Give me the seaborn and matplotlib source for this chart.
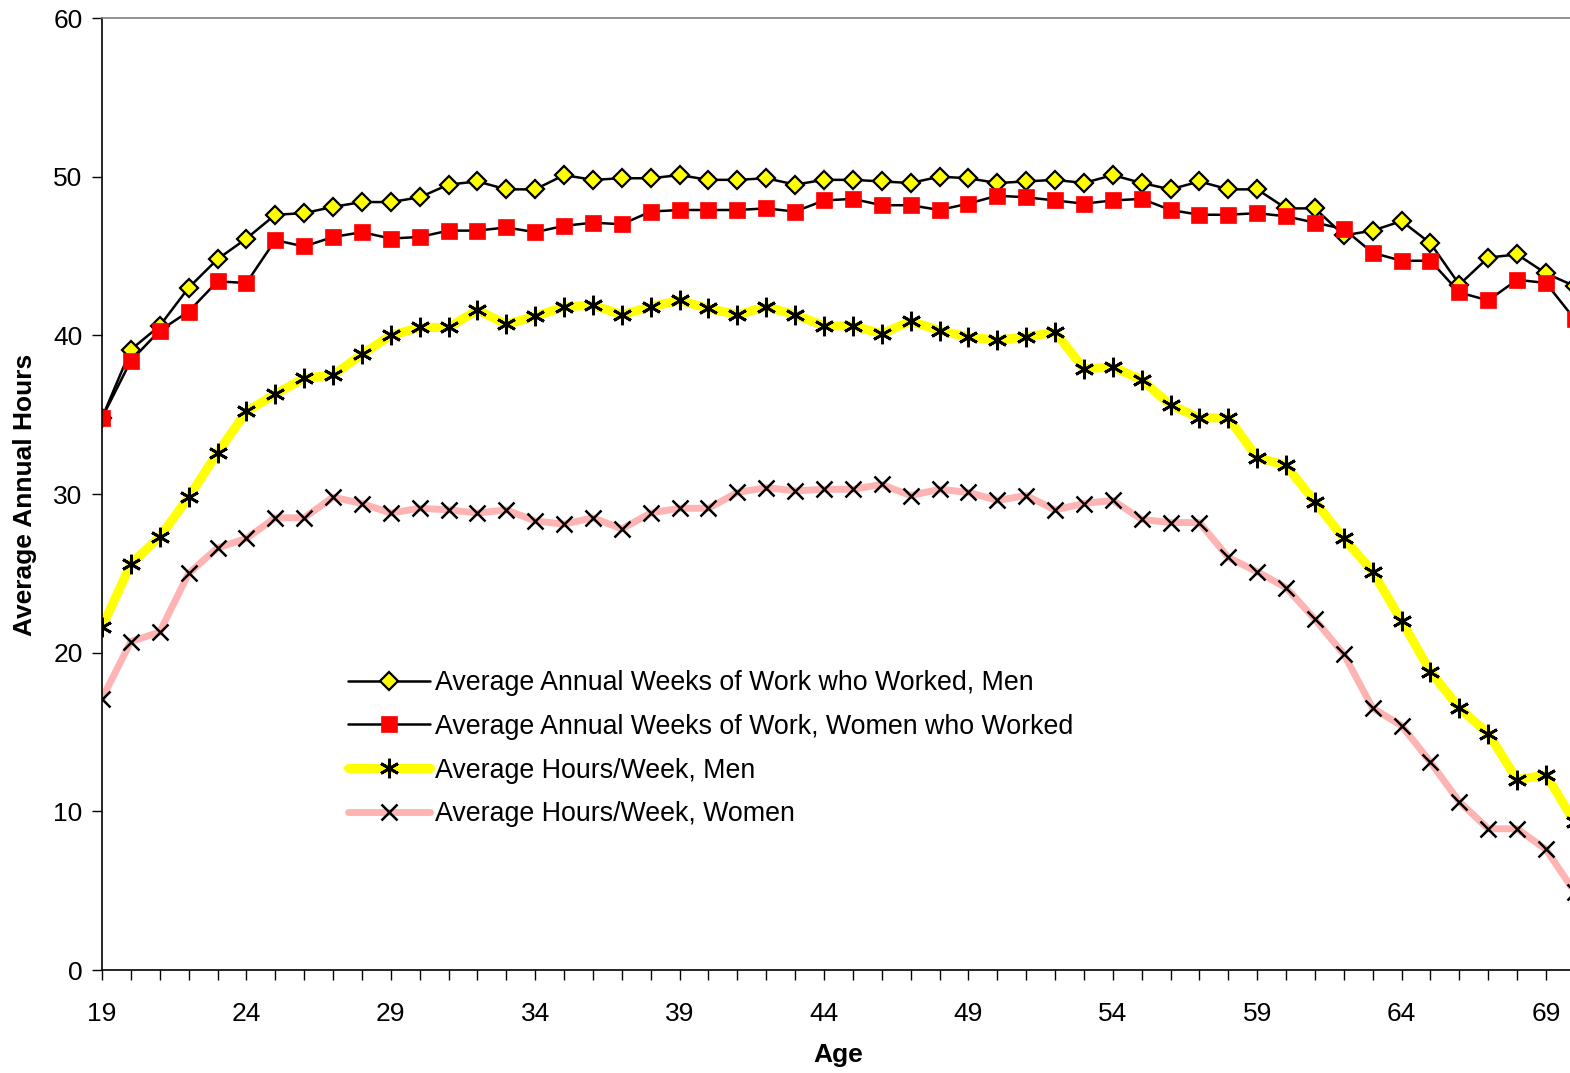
import numpy as np
import pandas as pd
import matplotlib
matplotlib.use('Agg')
import matplotlib.pyplot as plt
import seaborn as sns

# === Data ===
ages = list(range(19, 71))

men_weeks = [34.8, 39.1, 40.6, 43.0, 44.8, 46.1, 47.6, 47.7, 48.1, 48.4,
             48.4, 48.7, 49.5, 49.7, 49.2, 49.2, 50.1, 49.8, 49.9, 49.9,
             50.1, 49.8, 49.8, 49.9, 49.5, 49.8, 49.8, 49.7, 49.6, 50.0,
             49.9, 49.6, 49.7, 49.8, 49.6, 50.1, 49.6, 49.2, 49.7, 49.2,
             49.2, 48.0, 48.0, 46.3, 46.6, 47.2, 45.8, 43.2, 44.9, 45.1,
             43.9, 43.1]

women_weeks = [34.8, 38.4, 40.3, 41.5, 43.4, 43.3, 46.0, 45.6, 46.2, 46.5,
               46.1, 46.2, 46.6, 46.6, 46.8, 46.5, 46.9, 47.1, 47.0, 47.8,
               47.9, 47.9, 47.9, 48.0, 47.8, 48.5, 48.6, 48.2, 48.2, 47.9,
               48.3, 48.8, 48.7, 48.5, 48.3, 48.5, 48.6, 47.9, 47.6, 47.6,
               47.7, 47.5, 47.1, 46.7, 45.2, 44.7, 44.7, 42.7, 42.2, 43.5,
               43.3, 41.0]

men_hours = [21.6, 25.6, 27.3, 29.8, 32.6, 35.2, 36.3, 37.3, 37.5, 38.8,
             40.0, 40.5, 40.5, 41.6, 40.7, 41.2, 41.8, 41.9, 41.3, 41.8,
             42.2, 41.7, 41.3, 41.8, 41.3, 40.6, 40.6, 40.1, 40.9, 40.3,
             39.9, 39.7, 39.9, 40.2, 37.9, 38.0, 37.2, 35.6, 34.8, 34.8,
             32.3, 31.8, 29.5, 27.2, 25.1, 22.0, 18.8, 16.5, 14.9, 12.0,
             12.3, 9.3]

women_hours = [17.1, 20.7, 21.3, 25.0, 26.6, 27.2, 28.5, 28.5, 29.8, 29.4,
               28.8, 29.1, 29.0, 28.8, 29.0, 28.3, 28.1, 28.5, 27.8, 28.8,
               29.1, 29.1, 30.1, 30.4, 30.2, 30.3, 30.3, 30.6, 29.9, 30.3,
               30.1, 29.6, 29.9, 29.0, 29.4, 29.6, 28.4, 28.2, 28.2, 26.0,
               25.1, 24.1, 22.1, 19.9, 16.5, 15.4, 13.1, 10.6, 8.9, 8.9,
               7.6, 4.9]

series_labels = ['Average Annual Weeks of Work who Worked, Men',
                 'Average Annual Weeks of Work, Women who Worked',
                 'Average Hours/Week, Men',
                 'Average Hours/Week, Women']

x_ticklabels = list(range(19, 70, 5))
y_ticks = list(range(0, 61, 10))

df = pd.DataFrame({'age': ages, 'men_weeks': men_weeks, 'women_weeks': women_weeks,
                   'men_hours': men_hours, 'women_hours': women_hours})

# === Style ===
sns.set_style('white')
plt.rcParams['font.family'] = ['Liberation Sans', 'DejaVu Sans']
plt.rcParams['text.color'] = 'black'
plt.rcParams['axes.labelcolor'] = 'black'
plt.rcParams['xtick.color'] = 'black'
plt.rcParams['ytick.color'] = 'black'

fig = plt.figure(figsize=(15.7, 10.73), dpi=100)
ax = fig.add_axes([102 / 1570, 103 / 1073, 1 - 102 / 1570, (970 - 18) / 1073])

# === Series ===
sns.lineplot(data=df, x='age', y='men_weeks', ax=ax, color='black', linewidth=1.8,
             marker='D', markersize=9, markerfacecolor='#ffff00',
             markeredgecolor='black', markeredgewidth=1.6, label=series_labels[0])
sns.lineplot(data=df, x='age', y='women_weeks', ax=ax, color='black', linewidth=1.8,
             marker='s', markersize=11, markerfacecolor='#ff0000',
             markeredgecolor='#ff0000', markeredgewidth=0.5, label=series_labels[1])
sns.lineplot(data=df, x='age', y='men_hours', ax=ax, color='#ffff00', linewidth=6.5,
             marker=(6, 2, 0), markersize=14, markeredgecolor='black',
             markeredgewidth=2.0, label=series_labels[2])
sns.lineplot(data=df, x='age', y='women_hours', ax=ax, color='#ffb4b4', linewidth=5,
             marker='x', markersize=11, markeredgecolor='black',
             markeredgewidth=1.8, label=series_labels[3])

# === Axes ===
ax.set_xlim(19, 19 + 1468 / 28.88)
ax.set_ylim(0, 60)
ax.set_yticks(y_ticks)
ax.set_xticks(ages[:-1], minor=True)
ax.set_xticks(x_ticklabels)
ax.tick_params(axis='both', which='both', direction='out', color='black',
               labelcolor='black', labelsize=19, left=True, bottom=True)
ax.tick_params(axis='y', which='major', length=7, width=1, pad=7)
ax.tick_params(axis='x', which='both', length=7, width=1, pad=16)

for side in ['left', 'bottom']:
    ax.spines[side].set_color('black')
    ax.spines[side].set_linewidth(1.2)
ax.spines['top'].set_color('#808080')
ax.spines['top'].set_linewidth(1.2)
ax.spines['right'].set_visible(False)

ax.set_xlabel('Age', fontsize=19, fontweight='bold')
ax.set_ylabel('Average Annual Hours', fontsize=19, fontweight='bold')
ax.xaxis.label.set_va('center')
ax.yaxis.label.set_va('center')
ax.xaxis.set_label_coords((838 - 102) / 1468, -(1055 - 970) / 952)
ax.yaxis.set_label_coords(-(102 - 25) / 1468, (970 - 495) / 952)

leg = ax.legend(loc='upper left', bbox_to_anchor=(324 / 1570, 1 - 646 / 1073),
                bbox_transform=fig.transFigure, frameon=False, fontsize=19.3,
                handlelength=3.05, handletextpad=0.2, labelspacing=0.66)

fig.savefig('out.png', dpi=100)
